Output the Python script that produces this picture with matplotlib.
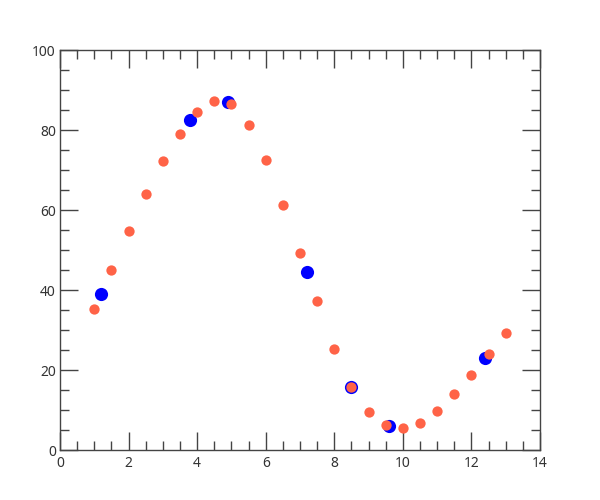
import numpy as np
import matplotlib
matplotlib.use("Agg")
import matplotlib.pyplot as plt
from matplotlib.ticker import MultipleLocator

plt.rcParams['font.family'] = ['Noto Sans', 'DejaVu Sans']

# measured points (blue)
x_meas = [1.2, 3.8, 4.9, 7.2, 8.5, 9.6, 12.4]
y_meas = [39.0, 82.5, 87.0, 44.5, 15.8, 6.0, 23.0]

# model points (red)
x_fit = [1.0, 1.5, 2.0, 2.5, 3.0, 3.5, 4.0, 4.5, 5.0, 5.5, 6.0, 6.5, 7.0,
         7.5, 8.0, 8.5, 9.0, 9.5, 10.0, 10.5, 11.0, 11.5, 12.0, 12.5, 13.0]
y_fit = [35.2, 45.0, 54.8, 64.0, 72.2, 79.0, 84.4, 87.2, 86.5, 81.3, 72.5,
         61.3, 49.2, 37.2, 25.3, 15.8, 9.5, 6.3, 5.5, 6.8, 9.8, 14.0, 18.8,
         24.0, 29.2]

fig = plt.figure(figsize=(6, 5), dpi=100)
ax = fig.add_axes([0.1, 0.1, 0.8, 0.8])

ax.scatter(x_meas, y_meas, s=90, color='#0000ff', linewidths=0, zorder=2)
ax.scatter(x_fit, y_fit, s=55, color='#ff6347', linewidths=0, zorder=3)

ax.set_xlim(0, 14)
ax.set_ylim(0, 100)
ax.xaxis.set_major_locator(MultipleLocator(2))
ax.xaxis.set_minor_locator(MultipleLocator(0.5))
ax.yaxis.set_major_locator(MultipleLocator(20))
ax.yaxis.set_minor_locator(MultipleLocator(5))

for side in ax.spines.values():
    side.set_color('#444444')
    side.set_linewidth(1.0)

ax.tick_params(which='both', direction='in', top=True, right=True,
               color='#444444', labelcolor='#333333', labelsize=10, width=1.0)
ax.tick_params(which='major', length=12.7, pad=3)
ax.tick_params(which='minor', length=6.5)
ax.tick_params(axis='x', which='major', pad=4)

fig.savefig("out.png", dpi=100)
